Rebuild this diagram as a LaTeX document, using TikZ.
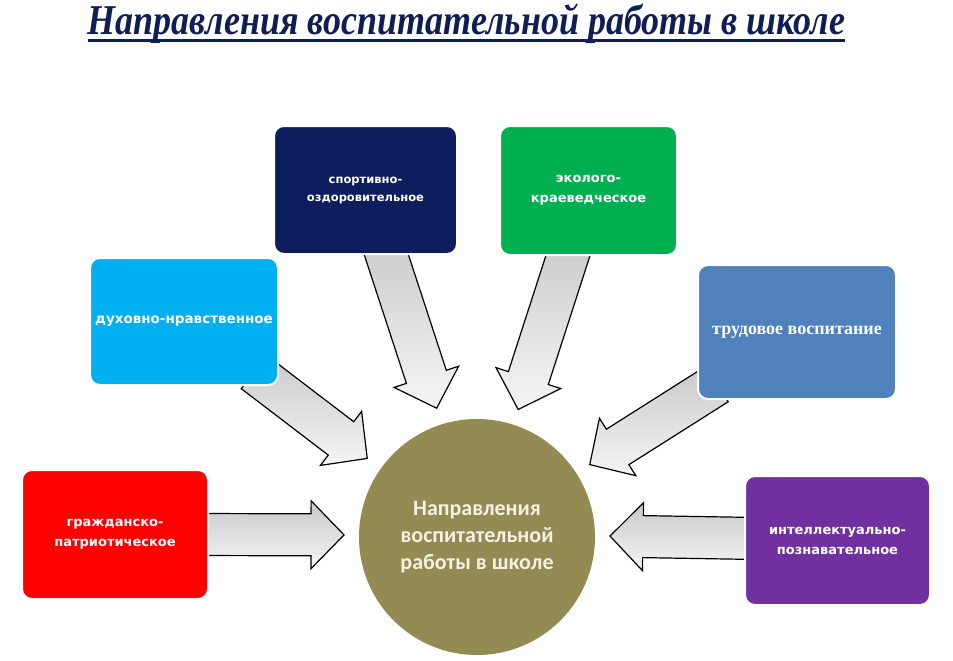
\documentclass[tikz,border=0pt]{standalone}
\usepackage{fontspec}
\setmainfont{Liberation Serif}
\newfontfamily\boxfont{DejaVu Sans}
\newfontfamily\calfont{Carlito}
\usetikzlibrary{calc}
\pgfdeclarelayer{background}
\pgfdeclarelayer{paper}
\pgfsetlayers{paper,background,main}
\definecolor{navy}{RGB}{12,30,94}
\definecolor{tnavy}{RGB}{16,30,84}
\definecolor{grn}{RGB}{0,176,80}
\definecolor{cyn}{RGB}{0,176,240}
\definecolor{steel}{RGB}{79,129,189}
\definecolor{rd}{RGB}{255,0,0}
\definecolor{purp}{RGB}{112,48,160}
\definecolor{olive}{RGB}{148,138,84}
\definecolor{cream}{RGB}{245,242,225}
\newcommand\blockarrow[2]{%
  \coordinate (#1-#2-h) at ($(#2)!33pt!(#1)$);
  \draw[barrow] ($(#1)!21pt!90:(#2)$) -- ($(#1-#2-h)!21pt!90:(#2)$) -- ($(#1-#2-h)!34pt!90:(#2)$) -- (#2) -- ($(#1-#2-h)!34pt!-90:(#2)$) -- ($(#1-#2-h)!21pt!-90:(#2)$) -- ($(#1)!21pt!-90:(#2)$) -- cycle;}
\begin{document}
\begin{tikzpicture}[x=1pt, y=-1pt,
  box/.style={rectangle, rounded corners=10pt, draw=white, line width=2pt, text=white, align=center, inner sep=0pt},
  sansbox/.style={box, font=\boxfont\bfseries\fontsize{13}{20}\selectfont},
  barrow/.style={draw=black, line width=1.2pt, line join=miter, top color=gray!42, bottom color=gray!8}]
\begin{pgfonlayer}{paper}
\useasboundingbox[fill=white] (0,0) rectangle (953,661);
\end{pgfonlayer}
% title
\node[font=\bfseries\itshape\fontsize{36}{40}\selectfont, text=tnavy, inner sep=0pt, anchor=base] (title) at (466.5,35) {\scalebox{1}[1.18]{Направления воспитательной работы в школе}};
\draw[tnavy, line width=3pt] ($(title.base west)+(0,6)$) -- ($(title.base east)+(0,6)$);
% boxes
\node[sansbox, fill=navy, minimum width=183pt, minimum height=128pt, font=\boxfont\bfseries\fontsize{11.5}{18}\selectfont] (sport) at (365.5,190) {спортивно-\\оздоровительное};
\node[sansbox, fill=grn, minimum width=177pt, minimum height=129pt] (eco) at (588.5,190.5) {эколого-\\краеведческое};
\node[sansbox, fill=cyn, minimum width=188pt, minimum height=127pt, font=\boxfont\bfseries\fontsize{13.5}{20}\selectfont] (spirit) at (184,321.5) {духовно-нравственное};
\node[box, fill=steel, minimum width=198pt, minimum height=134pt, font=\bfseries\fontsize{18}{20}\selectfont] (labor) at (797,332) {трудовое воспитание};
\node[sansbox, fill=rd, minimum width=186pt, minimum height=129pt] (civic) at (115,534.5) {гражданско-\\патриотическое};
\node[sansbox, fill=purp, minimum width=185pt, minimum height=129pt] (intel) at (837.5,540.5) {интеллектуально-\\познавательное};
% hub
\node[circle, fill=olive, minimum size=236pt, inner sep=0pt, text=cream, align=center, font=\calfont\bfseries\fontsize{22}{27}\selectfont] (hub) at (477,537) {Направления\\воспитательной\\работы в школе};
% arrow ends
\coordinate (tcivic) at ($(civic.east)+(-13,0)$);
\coordinate (tintel) at ($(intel.west)+(13,-2)$);
\coordinate (tsport) at ($(sport.south)+(16,-15)$);
\coordinate (teco) at ($(eco.south)+(-15.5,-16)$);
\coordinate (tspirit) at ($(spirit.south east)+(-25,-14)$);
\coordinate (tlabor) at ($(labor.south west)+(20,-16)$);
\coordinate (pcivic) at ($(hub.center)+(180.9:133)$);
\coordinate (pintel) at ($(hub.center)+(359.6:133)$);
\coordinate (psport) at ($(hub.center)+(252.6:135)$);
\coordinate (peco) at ($(hub.center)+(287.9:134)$);
\coordinate (pspirit) at ($(hub.center)+(215.6:135)$);
\coordinate (plabor) at ($(hub.center)+(327.3:134)$);
\begin{pgfonlayer}{background}
\blockarrow{tcivic}{pcivic}
\blockarrow{tintel}{pintel}
\blockarrow{tsport}{psport}
\blockarrow{teco}{peco}
\blockarrow{tspirit}{pspirit}
\blockarrow{tlabor}{plabor}
\end{pgfonlayer}
\end{tikzpicture}
\end{document}
